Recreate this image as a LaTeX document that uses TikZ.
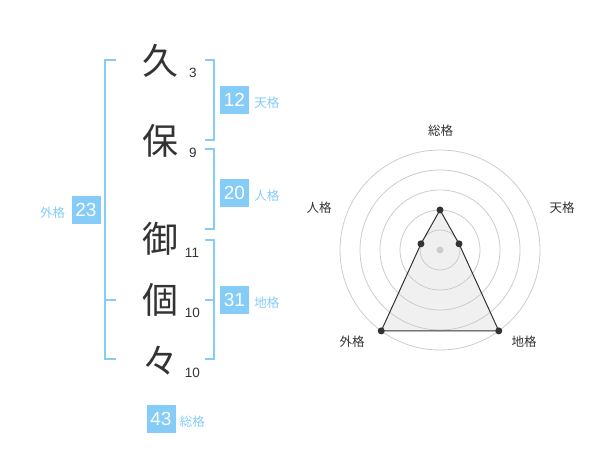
\documentclass[tikz,border=0pt]{standalone}
\usepackage{fontspec}
\setmainfont{Liberation Sans}
\newfontfamily\jpfont{Noto Sans CJK JP}
\usetikzlibrary{positioning}
\definecolor{sky}{RGB}{133,204,249}
\definecolor{ink}{RGB}{51,51,51}

\begin{document}
\begin{tikzpicture}[x=1pt,y=-1pt,
	kanji/.style={text=ink,font=\jpfont\fontsize{36}{36}\selectfont,inner sep=0pt},
	strokes/.style={text=ink,font=\fontsize{13.5}{14}\selectfont,inner sep=0pt},
	kaku/.style={fill=sky,text=white,font=\fontsize{19}{19}\selectfont,minimum width=29pt,minimum height=28pt,inner sep=0pt},
	kakulbl/.style={text=sky,font=\jpfont\fontsize{12.5}{12.5}\selectfont,inner sep=0pt},
	brace/.style={draw=sky,line width=2pt},
	ring/.style={draw=black!20,line width=0.8pt},
	dot/.style={circle,fill=ink,inner sep=0pt,minimum size=7pt},
	axis/.style={text=ink,font=\jpfont\fontsize{12.5}{12.5}\selectfont,inner sep=0pt}]
	\useasboundingbox (0,0) rectangle (600,470);

	% name and strokes
	\node[kanji] (k1) at (160,61) {久}; \node[strokes] (s1) at (193,72.5) {3};
	\node[kanji] (k2) at (160,140.5) {保}; \node[strokes] (s2) at (193,153) {9};
	\node[kanji] (k3) at (160,239) {御}; \node[strokes] (s3) at (192,252.5) {11};
	\node[kanji] (k4) at (160,300) {個}; \node[strokes] (s4) at (192.5,313) {10};
	\node[kanji] (k5) at (160,361) {々}; \node[strokes] (s5) at (192.5,373) {10};

	% brackets
	\draw[brace] (116,60) -- (105,60) -- (105,359) -- (116,359); \draw[brace] (105,300) -- (116,300);
	\draw[brace] (205,60) -- (214,60) -- (214,140) -- (205,140);
	\draw[brace] (205,149) -- (214,149) -- (214,229) -- (205,229);
	\draw[brace] (205,240) -- (214,240) -- (214,359) -- (205,359); \draw[brace] (205,300) -- (214,300);

	% scores
	\node[kaku] (b12) at (234.5,100) {12}; \node[kakulbl, right=5pt of b12, yshift=-3pt] (l12) {天格};
	\node[kaku] (b20) at (234.5,193) {20}; \node[kakulbl, right=5pt of b20, yshift=-3pt] (l20) {人格};
	\node[kaku] (b31) at (234.5,300) {31}; \node[kakulbl, right=5pt of b31, yshift=-3pt] (l31) {地格};
	\node[kaku] (b23) at (86,210) {23}; \node[kakulbl, left=6pt of b23, yshift=-3pt] (l23) {外格};
	\node[kaku] (b43) at (161,419) {43}; \node[kakulbl, right=4pt of b43, yshift=-3pt] (l43) {総格};

	% radar
	\begin{scope}[shift={(440,250)}]
		\coordinate (sou) at (90:40pt); \coordinate (ten) at (18:20pt); \coordinate (chi) at (-54:100pt);
		\coordinate (gai) at (-126:100pt); \coordinate (jin) at (162:20pt);
		\fill[black!6] (sou) -- (ten) -- (chi) -- (gai) -- (jin) -- cycle;
		\foreach \r in {20,40,...,100} \draw[ring] (0,0) circle[radius=\r pt];
		\fill[black!20] (0,0) circle[radius=3.5pt];
		\draw[ink,line width=1pt] (sou) -- (ten) -- (chi) -- (gai) -- (jin) -- cycle;
		\foreach \p in {sou,ten,chi,gai,jin} \node[dot] at (\p) {};
	\end{scope}
	\node[axis] (a-sou) at (440.5,131) {総格}; \node[axis] (a-ten) at (562,208) {天格};
	\node[axis] (a-jin) at (319,208) {人格}; \node[axis] (a-gai) at (352,342) {外格};
	\node[axis] (a-chi) at (524,342) {地格};
\end{tikzpicture}
\end{document}
